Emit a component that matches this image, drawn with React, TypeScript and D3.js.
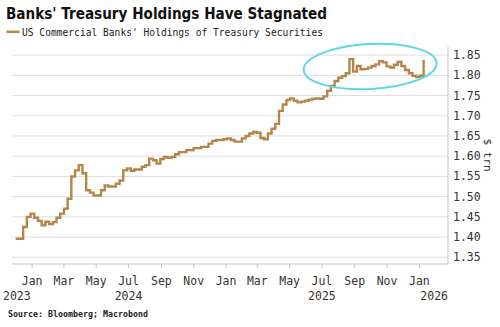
import React from "react";
import * as d3 from "d3";

const TITLE = "Banks' Treasury Holdings Have Stagnated";
const SERIES_NAME = "US Commercial Banks' Holdings of Treasury Securities";
const SOURCE = "Source: Bloomberg; Macrobond";
const UNIT = "$ trn";

// Weekly observations starting at this date
const START_DATE = "2023-12-01";
const holdings: number[] = [
  1.396, 1.396, 1.425, 1.45, 1.458, 1.448, 1.44, 1.429, 1.438, 1.432,
  1.437, 1.448, 1.458, 1.47, 1.495, 1.55, 1.565, 1.578, 1.558, 1.516,
  1.51, 1.503, 1.503, 1.516, 1.528, 1.525, 1.525, 1.532, 1.54, 1.565,
  1.57, 1.564, 1.567, 1.567, 1.574, 1.578, 1.594, 1.59, 1.582, 1.593,
  1.598, 1.596, 1.598, 1.605, 1.61, 1.61, 1.615, 1.615, 1.62, 1.62,
  1.623, 1.623, 1.631, 1.638, 1.64, 1.64, 1.642, 1.644, 1.64, 1.636,
  1.636, 1.644, 1.65, 1.656, 1.66, 1.658, 1.645, 1.642, 1.656, 1.668,
  1.68, 1.712, 1.728, 1.739, 1.743, 1.737, 1.733, 1.735, 1.737, 1.74,
  1.742, 1.743, 1.742, 1.748, 1.762, 1.774, 1.786, 1.794, 1.798, 1.805,
  1.84, 1.809, 1.823, 1.815, 1.816, 1.819, 1.823, 1.827, 1.835, 1.832,
  1.822, 1.819, 1.826, 1.833, 1.823, 1.813, 1.805, 1.799, 1.796, 1.799,
  1.838,
];

const yTicks: number[] = [1.35, 1.4, 1.45, 1.5, 1.55, 1.6, 1.65, 1.7, 1.75, 1.8, 1.85];
const monthTickDates: string[] = [
  "2024-01-01", "2024-03-01", "2024-05-01", "2024-07-01", "2024-09-01", "2024-11-01",
  "2025-01-01", "2025-03-01", "2025-05-01", "2025-07-01", "2025-09-01", "2025-11-01",
  "2026-01-01",
];
const monthLabels: string[] = [
  "Jan", "Mar", "May", "Jul", "Sep", "Nov", "Jan", "Mar", "May", "Jul", "Sep", "Nov", "Jan",
];
const yearLabels: string[] = ["2023", "2024", "2025", "2026"];
const yearLabelDates: string[] = ["2023-12-01", "2024-07-01", "2025-07-01", "2026-01-01"];
const X_DOMAIN: string[] = ["2023-11-24", "2026-02-24"];
const Y_DOMAIN: number[] = [1.3335, 1.87];

const W = 500;
const H = 327;
const plot = { left: 12, right: 448, top: 47, bottom: 264 };

const parse = d3.utcParse("%Y-%m-%d");
const MONO = "'DejaVu Sans Mono', 'Liberation Mono', monospace";

export default function App() {
  const start = parse(START_DATE)!;
  const data = holdings.map((v, i) => ({ date: d3.utcDay.offset(start, 7 * i), value: v }));

  const x = d3
    .scaleUtc()
    .domain(X_DOMAIN.map((d) => parse(d)!))
    .range([plot.left, plot.right]);
  const y = d3.scaleLinear().domain(Y_DOMAIN).range([plot.bottom, plot.top]);

  const line = d3
    .line<{ date: Date; value: number }>()
    .x((d) => x(d.date))
    .y((d) => y(d.value))
    .curve(d3.curveStepAfter);

  const ellipse = {
    cx: x(parse("2025-09-30")!),
    cy: y(1.8218),
    rx: 66.5,
    ry: 22.5,
  };

  return (
    <svg
      width={W}
      height={H}
      viewBox={`0 0 ${W} ${H}`}
      style={{ position: "absolute", left: 0, top: 0, background: "#fff" }}
    >
      <rect x={0} y={0} width={W} height={H} fill="#fff" />
      <text
        x={6}
        y={18.5}
        fontFamily="'DejaVu Sans', Verdana, sans-serif"
        fontWeight="bold"
        fontSize={15}
        fill="#111"
        textLength={321}
        lengthAdjust="spacingAndGlyphs"
      >
        {TITLE}
      </text>
      <line x1={6.5} x2={19.5} y1={31.8} y2={31.8} stroke="#b5864a" strokeWidth={2.5} />
      <text
        x={22}
        y={35.5}
        fontFamily={MONO}
        fontSize={10.5}
        fill="#222"
        textLength={301}
        lengthAdjust="spacingAndGlyphs"
      >
        {SERIES_NAME}
      </text>

      {yTicks.map((t) => (
        <g key={t}>
          <line x1={plot.left} x2={plot.right} y1={y(t)} y2={y(t)} stroke="#dedede" strokeWidth={1} />
          <text x={453} y={y(t) + 4} fontFamily={MONO} fontSize={11.5} fill="#333">
            {t.toFixed(2)}
          </text>
        </g>
      ))}

      <line x1={plot.left} x2={plot.right} y1={plot.bottom} y2={plot.bottom} stroke="#c4c4c4" strokeWidth={1} />
      <line x1={plot.right} x2={plot.right} y1={plot.top} y2={plot.bottom} stroke="#c4c4c4" strokeWidth={1} />

      {monthTickDates.map((d, i) => {
        const xp = x(parse(d)!);
        return (
          <g key={d}>
            <line x1={xp} x2={xp} y1={plot.bottom} y2={plot.bottom + 4} stroke="#c4c4c4" strokeWidth={1} />
            <text x={xp} y={284.5} textAnchor="middle" fontFamily={MONO} fontSize={11.5} fill="#333">
              {monthLabels[i]}
            </text>
          </g>
        );
      })}
      {yearLabels.map((yl, i) => {
        const isFirst = i === 0;
        const isLast = i === yearLabels.length - 1;
        const xp = isFirst ? 3 : isLast ? plot.right : x(parse(yearLabelDates[i])!);
        return (
          <text
            key={yl}
            x={xp}
            y={299.5}
            textAnchor={isFirst ? "start" : isLast ? "end" : "middle"}
            fontFamily={MONO}
            fontSize={11.5}
            fill="#333"
          >
            {yl}
          </text>
        );
      })}

      <text
        transform={`translate(484,155) rotate(90)`}
        textAnchor="middle"
        fontFamily={MONO}
        fontSize={11}
        fill="#333"
      >
        {UNIT}
      </text>

      <path d={line(data) || ""} fill="none" stroke="#b5864a" strokeWidth={2.4} strokeLinejoin="miter" />

      <ellipse
        cx={ellipse.cx}
        cy={ellipse.cy}
        rx={ellipse.rx}
        ry={ellipse.ry}
        fill="none"
        stroke="#5fd8df"
        strokeWidth={2}
        transform={`rotate(-3 ${ellipse.cx} ${ellipse.cy})`}
      />

      <text
        x={8}
        y={317}
        fontFamily={MONO}
        fontWeight="bold"
        fontSize={9}
        fill="#222"
        textLength={140}
        lengthAdjust="spacingAndGlyphs"
      >
        {SOURCE}
      </text>
    </svg>
  );
}
